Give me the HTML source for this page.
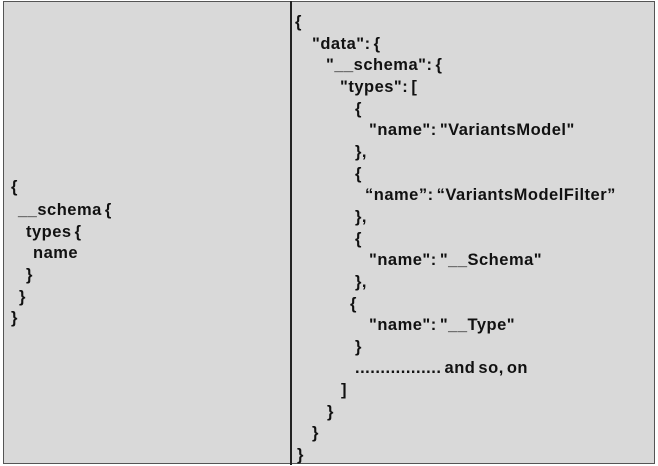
<!DOCTYPE html>
<html><head><style>
html,body{margin:0;padding:0;background:#fff;}
#c{position:relative;width:658px;height:466px;overflow:hidden;background:#fff;}
.box{position:absolute;left:3px;top:1px;width:650px;height:461px;border:1.5px solid #555;background:#d9d9d9;}
.div{position:absolute;left:290px;top:1px;width:1.5px;height:464px;background:#222;}
.t{position:absolute;font-family:"Liberation Sans",sans-serif;font-weight:bold;font-size:16.5px;letter-spacing:0.5px;word-spacing:-2px;color:#111;white-space:pre;line-height:18px;}
</style></head><body><div id="c">
<div class="box"></div><div class="div"></div>
<div class="t" style="left:11px;top:178px">{</div>
<div class="t" style="left:18px;top:201px">__schema {</div>
<div class="t" style="left:26px;top:223px">types {</div>
<div class="t" style="left:33px;top:244px">name</div>
<div class="t" style="left:26px;top:266px">}</div>
<div class="t" style="left:19px;top:288px">}</div>
<div class="t" style="left:11px;top:309px">}</div>

<div class="t" style="left:295px;top:13px">{</div>
<div class="t" style="left:312px;top:35px">"data": {</div>
<div class="t" style="left:326px;top:56px">"__schema": {</div>
<div class="t" style="left:340px;top:78px">"types": [</div>
<div class="t" style="left:355px;top:100px">{</div>
<div class="t" style="left:369px;top:121px">"name": "VariantsModel"</div>
<div class="t" style="left:355px;top:143px">},</div>
<div class="t" style="left:355px;top:165px">{</div>
<div class="t" style="left:365px;top:186px">“name”: “VariantsModelFilter”</div>
<div class="t" style="left:355px;top:208px">},</div>
<div class="t" style="left:355px;top:230px">{</div>
<div class="t" style="left:369px;top:251px">"name": "__Schema"</div>
<div class="t" style="left:355px;top:273px">},</div>
<div class="t" style="left:350px;top:295px">{</div>
<div class="t" style="left:369px;top:316px">"name": "__Type"</div>
<div class="t" style="left:355px;top:338px">}</div>
<div class="t" style="left:355px;top:359px">................. and so, on</div>
<div class="t" style="left:341px;top:381px">]</div>
<div class="t" style="left:327px;top:403px">}</div>
<div class="t" style="left:312px;top:424px">}</div>
<div class="t" style="left:297px;top:446px">}</div>
</div></body></html>
